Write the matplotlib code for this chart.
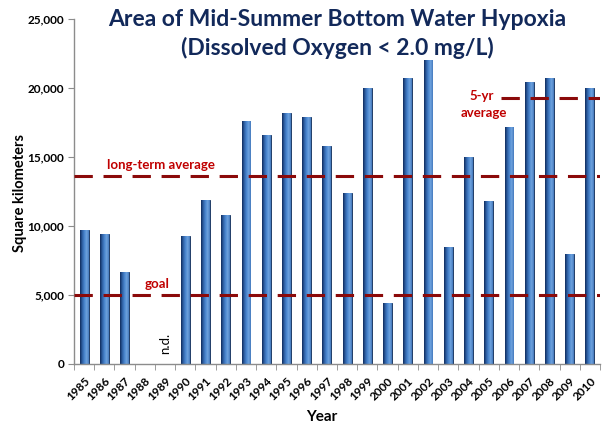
import numpy as np
import matplotlib.pyplot as plt
from matplotlib.colors import LinearSegmentedColormap

plt.rcParams['font.family'] = ['Lato', 'DejaVu Sans']

years = [str(y) for y in range(1985, 2011)]
# hypoxic area in km2, None = no data
area = [9700, 9400, 6700, 0, None, 9260, 11900, 10800, 17600, 16600,
        18200, 17900, 15800, 12400, 20000, 4400, 20700, 22000, 8500, 15000,
        11800, 17200, 20400, 20700, 8000, 20000]
long_term_avg = 13650
goal = 5000
five_yr_avg = 19300
five_yr_start = 2005.6  # where the 5-yr line begins

red_line = '#8B0A0A'
red_text = '#C00000'
navy = '#12295A'

fig = plt.figure(figsize=(6.16, 4.28), dpi=100)
ax = fig.add_axes([74/616, 1 - 364/428, 526/616, 345/428])

x = np.arange(len(years))
vals = np.array([v if v is not None else 0 for v in area], dtype=float)
bars = ax.bar(x, vals, width=0.44, color='#3F76BC', edgecolor='#0E2A55',
              linewidth=0.6, zorder=2)

# fake the 3d-ish shading: dark left side, light right side
grad = np.linspace(0, 1, 64).reshape(1, -1)
cmap = LinearSegmentedColormap.from_list(
    'barshade', ['#0F2B5C', '#2E5FA3', '#4A86CF', '#6FA3DE', '#4479BD'])
for b in bars:
    if b.get_height() <= 0:
        b.set_visible(False)
        continue
    bx, bw, bh = b.get_x(), b.get_width(), b.get_height()
    im = ax.imshow(grad, cmap=cmap, aspect='auto',
                   extent=[bx, bx + bw, 0, bh], zorder=2.5)
    im.set_clip_path(b)

ax.set_xlim(-0.5, len(years) - 0.5)
ax.set_ylim(0, 25000)

# reference lines
ax.axhline(long_term_avg, color=red_line, lw=2.2, dashes=(6, 3.5), zorder=3)
ax.axhline(goal, color=red_line, lw=2.2, dashes=(6, 3.5), zorder=3)
i5 = five_yr_start - 1985
ax.plot([i5, len(years) - 0.5], [five_yr_avg, five_yr_avg], color=red_line,
        lw=2.2, dashes=(6, 3.5), zorder=3)

ax.text(3.8, long_term_avg + 350, 'long-term average', color=red_text,
        fontsize=9.5, fontweight='bold', ha='center', va='bottom')
ax.text(3.6, goal + 350, 'goal', color=red_text, fontsize=9.5,
        fontweight='bold', ha='center', va='bottom')
ax.text(i5 - 0.95, five_yr_avg + 100, '5-yr', color=red_text,
        fontsize=9.5, fontweight='bold', ha='center', va='center')
ax.text(i5 - 0.85, five_yr_avg - 1100, 'average', color=red_text,
        fontsize=9.5, fontweight='bold', ha='center', va='center')

ax.text(4, 700, 'n.d.', rotation=90, fontsize=9.5, ha='center', va='bottom',
        color='black')

# axes styling
for s in ['top', 'right']:
    ax.spines[s].set_visible(False)
for s in ['left', 'bottom']:
    ax.spines[s].set_color('#8C8C8C')
    ax.spines[s].set_linewidth(1)

ax.set_yticks(np.arange(0, 25001, 5000))
ax.set_yticklabels([f'{v:,}' for v in range(0, 25001, 5000)],
                   fontsize=8.5, fontweight='bold')
ax.tick_params(axis='y', length=4, color='#8C8C8C', pad=3)

ax.set_xticks(x)
ax.set_xticklabels(years, rotation=45, ha='right', va='top',
                   rotation_mode='anchor', fontsize=8.5, fontweight='bold')
ax.set_xticks(np.arange(-0.5, len(years), 1), minor=True)
ax.tick_params(axis='x', which='major', length=0, pad=8)
ax.tick_params(axis='x', which='minor', length=4, color='#8C8C8C')

fig.text(337/616, 1 - 20/428,
         'Area of Mid-Summer Bottom Water Hypoxia', color=navy,
         fontsize=16.5, fontweight='bold', ha='center', va='center')
fig.text(337/616, 1 - 48/428, '(Dissolved Oxygen < 2.0 mg/L)', color=navy,
         fontsize=16.5, fontweight='bold', ha='center', va='center')

fig.text(20/616, 1 - 193/428, 'Square kilometers', rotation=90,
         fontsize=10.5, fontweight='bold', ha='center', va='center')
fig.text(322/616, 1 - 417/428, 'Year', fontsize=11, fontweight='bold',
         ha='center', va='center')

fig.savefig('out.png', dpi=100)
